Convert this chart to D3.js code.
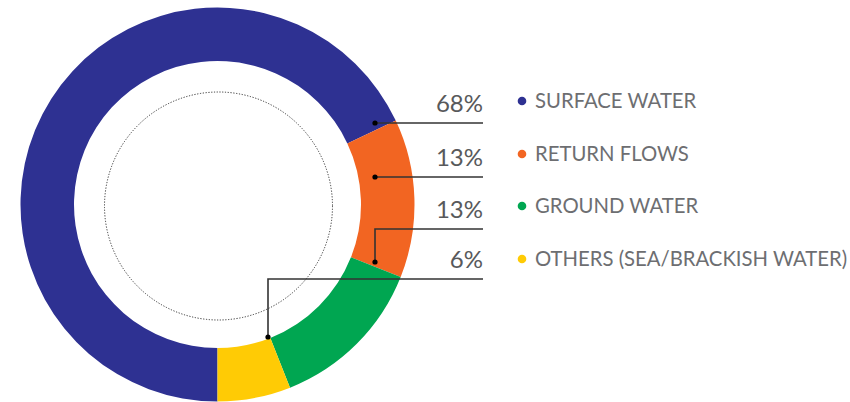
<!DOCTYPE html>
<html><head><meta charset="utf-8">
<script src="https://cdn.jsdelivr.net/npm/d3@7"></script>
<style>body{margin:0;background:#fff;} svg{display:block;}</style>
</head><body>
<svg id="chart" width="850" height="402"></svg>
<script>
const categories = ["SURFACE WATER", "RETURN FLOWS", "GROUND WATER", "OTHERS (SEA/BRACKISH WATER)"];
const values = [68, 13, 13, 6];
const colors = ["#2E3192", "#F26522", "#00A651", "#FFCB05"];
const percentLabels = ["68%", "13%", "13%", "6%"];

// layout
const cx = 217.5, cy = 204.5, rOuter = 197, rInner = 143.5, rDotted = 114;
const rowY = [123, 177, 229, 279];          // leader line y
const dotPos = [[375,123],[375,177],[375,262],[268,337]];
const lineEnd = 483;
const legendX = 522, legendRowY = [101, 154, 206, 259];

const svg = d3.select("#chart");
const g = svg.append("g").attr("transform", `translate(${cx},${cy})`);

const pie = d3.pie().sort(null).startAngle(Math.PI).endAngle(3*Math.PI);
const arc = d3.arc().innerRadius(rInner).outerRadius(rOuter);
g.selectAll("path.slice").data(pie(values)).join("path")
  .attr("class","slice").attr("d", arc).attr("fill", (d,i)=>colors[i]);

g.append("circle").attr("cx", 1).attr("cy", 1.5).attr("r", rDotted).attr("fill","none")
  .attr("stroke","#333").attr("stroke-width",1).attr("stroke-dasharray","1.2,1.6");

// leaders
const lg = svg.append("g");
categories.forEach((c,i)=>{
  const [dx,dy] = dotPos[i];
  const y = rowY[i];
  let path;
  if (Math.abs(dy - y) < 1) path = `M${dx},${y}H${lineEnd}`;
  else path = `M${dx},${dy}V${y}H${lineEnd}`;
  lg.append("path").attr("d", path).attr("fill","none").attr("stroke","#333").attr("stroke-width",1.6);
  lg.append("circle").attr("cx",dx).attr("cy",dy).attr("r",2.6).attr("fill","#000");
  lg.append("text").attr("x", lineEnd).attr("y", y-11)
    .attr("text-anchor","end").attr("font-family","Lato, sans-serif")
    .attr("font-size",24).attr("fill","#58595b").text(percentLabels[i]);
});

// legend
const leg = svg.append("g");
categories.forEach((c,i)=>{
  const y = legendRowY[i];
  leg.append("circle").attr("cx", legendX).attr("cy", y).attr("r", 4.3).attr("fill", colors[i]);
  leg.append("text").attr("x", legendX+13).attr("y", y+7)
    .attr("font-family","Lato, sans-serif").attr("font-size",20.3)
    .attr("fill","#6d6e71").text(c);
});
</script>
</body></html>
